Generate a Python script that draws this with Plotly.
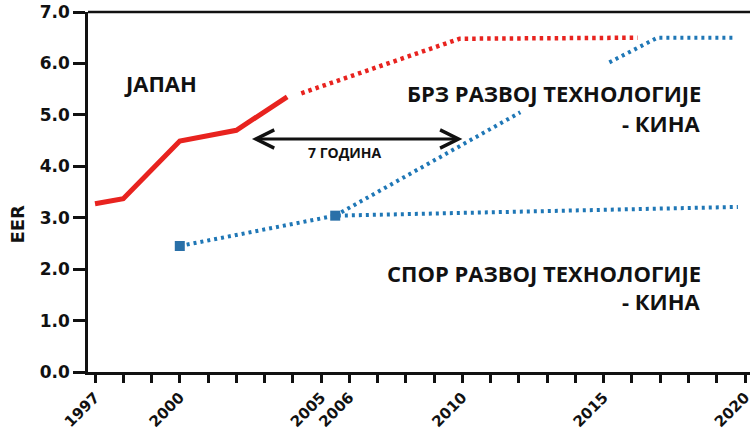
import plotly.graph_objects as go

# ---- data ----
japan_years = [1997, 1998, 2000, 2002, 2003.8]
japan_eer = [3.27, 3.37, 4.49, 4.70, 5.35]

japan_proj_years = [2004.3, 2009.9, 2016.2]
japan_proj_eer = [5.42, 6.48, 6.50]

china_points_years = [2000, 2005.5]
china_points_eer = [2.45, 3.04]

china_slow_years = [2000, 2005.5, 2019.75]
china_slow_eer = [2.45, 3.04, 3.21]

china_fast_years = [2005.5, 2012.05, None, 2015.2, 2016.9, 2019.6]
china_fast_eer = [3.04, 5.05, None, 6.02, 6.50, 6.50]

x_tick_years = [1997, 2000, 2005, 2006, 2010, 2015, 2020]
x_tick_labels = ["1997", "2000", "2005", "2006", "2010", "2015", "2020"]
y_tick_vals = [0, 1, 2, 3, 4, 5, 6, 7]

arrow_from_year, arrow_to_year, arrow_eer = 2002.5, 2010.0, 4.53

RED = "#e8231f"
BLUE = "#1f77b6"
SQ_BLUE = "#2a70a8"

fig = go.Figure()

fig.add_trace(go.Scatter(x=china_slow_years, y=china_slow_eer, mode="lines",
                         line=dict(color=BLUE, width=4, dash="3px,4px"),
                         hoverinfo="skip", showlegend=False))
fig.add_trace(go.Scatter(x=china_fast_years, y=china_fast_eer, mode="lines",
                         line=dict(color=BLUE, width=4, dash="3px,4px"),
                         connectgaps=False, hoverinfo="skip", showlegend=False))
fig.add_trace(go.Scatter(x=japan_proj_years, y=japan_proj_eer, mode="lines",
                         line=dict(color=RED, width=4.5, dash="3.5px,4px"),
                         hoverinfo="skip", showlegend=False))
fig.add_trace(go.Scatter(x=japan_years, y=japan_eer, mode="lines",
                         line=dict(color=RED, width=5),
                         hoverinfo="skip", showlegend=False))
fig.add_trace(go.Scatter(x=china_points_years, y=china_points_eer, mode="markers",
                         marker=dict(symbol="square", size=10, color=SQ_BLUE,
                                     line=dict(width=0)),
                         hoverinfo="skip", showlegend=False))

txt_font = dict(family="Open Sans, DejaVu Sans, sans-serif", size=22, color="#111111", weight=700)

annotations = [
    dict(x=1999.3, y=5.62, text="ЈАПАН", xanchor="center", yanchor="middle"),
    dict(x=2018.5, y=5.42, text="БРЗ РАЗВОЈ ТЕХНОЛОГИЈЕ", xanchor="right", yanchor="middle"),
    dict(x=2018.5, y=4.85, text="- КИНА", xanchor="right", yanchor="middle"),
    dict(x=2018.5, y=1.93, text="СПОР РАЗВОЈ ТЕХНОЛОГИЈЕ", xanchor="right", yanchor="middle"),
    dict(x=2018.5, y=1.38, text="- КИНА", xanchor="right", yanchor="middle"),
]
for a in annotations:
    fig.add_annotation(xref="x", yref="y", showarrow=False, font=txt_font, **a)

# double-headed arrow
fig.add_annotation(x=arrow_to_year, y=arrow_eer, ax=arrow_from_year, ay=arrow_eer,
                   xref="x", yref="y", axref="x", ayref="y", text="",
                   showarrow=True, arrowhead=5, startarrowhead=5, arrowside="end+start",
                   arrowsize=1.2, startarrowsize=1.2, arrowwidth=3, arrowcolor="#111111",
                   standoff=0, startstandoff=0)
fig.add_annotation(x=2005.85, y=4.26,
                   xref="x", yref="y", showarrow=False, text="7 ГОДИНА",
                   font=dict(family="Open Sans, DejaVu Sans, sans-serif", size=14,
                             color="#111111", weight=700))

# y axis title
fig.add_annotation(xref="paper", yref="paper", x=-0.107, y=0.41, text="EER",
                   textangle=-90, showarrow=False, xanchor="center", yanchor="middle",
                   font=dict(family="DejaVu Sans", size=18, color="#111111", weight=700))

# top frame line
fig.add_shape(type="line", xref="paper", yref="paper", x0=0, x1=1, y0=1, y1=1,
              line=dict(color="#111111", width=2.5))

fig.update_xaxes(range=[1996.752, 2020.177], tickvals=x_tick_years, ticktext=x_tick_labels,
                 tickangle=-45, ticks="outside", ticklen=8, tickwidth=2.5, tickcolor="#111111",
                 showline=True, linecolor="#111111", linewidth=2.5,
                 showgrid=False, zeroline=False, automargin=False, ticklabeloverflow="allow",
                 tickfont=dict(family="DejaVu Sans", size=15, color="#111111", weight=700),
                 minor=dict(tick0=1997, dtick=1, ticks="outside", ticklen=8, tickwidth=2.5,
                            tickcolor="#111111", showgrid=False))
fig.update_yaxes(range=[0, 7], tickvals=y_tick_vals, tickformat=".1f",
                 ticks="outside", ticklen=12, tickwidth=2.5, tickcolor="#111111",
                 showline=True, linecolor="#111111", linewidth=2.5,
                 showgrid=False, zeroline=False, automargin=False, ticklabeloverflow="allow",
                 tickfont=dict(family="DejaVu Sans", size=17, color="#111111", weight=700))

fig.update_layout(width=750, height=437, margin=dict(l=88, r=0, t=12, b=65, autoexpand=False),
                  paper_bgcolor="white", plot_bgcolor="white", showlegend=False)

# remove the default 8px page margin so the figure fills the window exactly
fig.write_html("out.html", config={"displayModeBar": False},
               post_script="document.body.style.margin='0';document.body.style.overflow='hidden';")
